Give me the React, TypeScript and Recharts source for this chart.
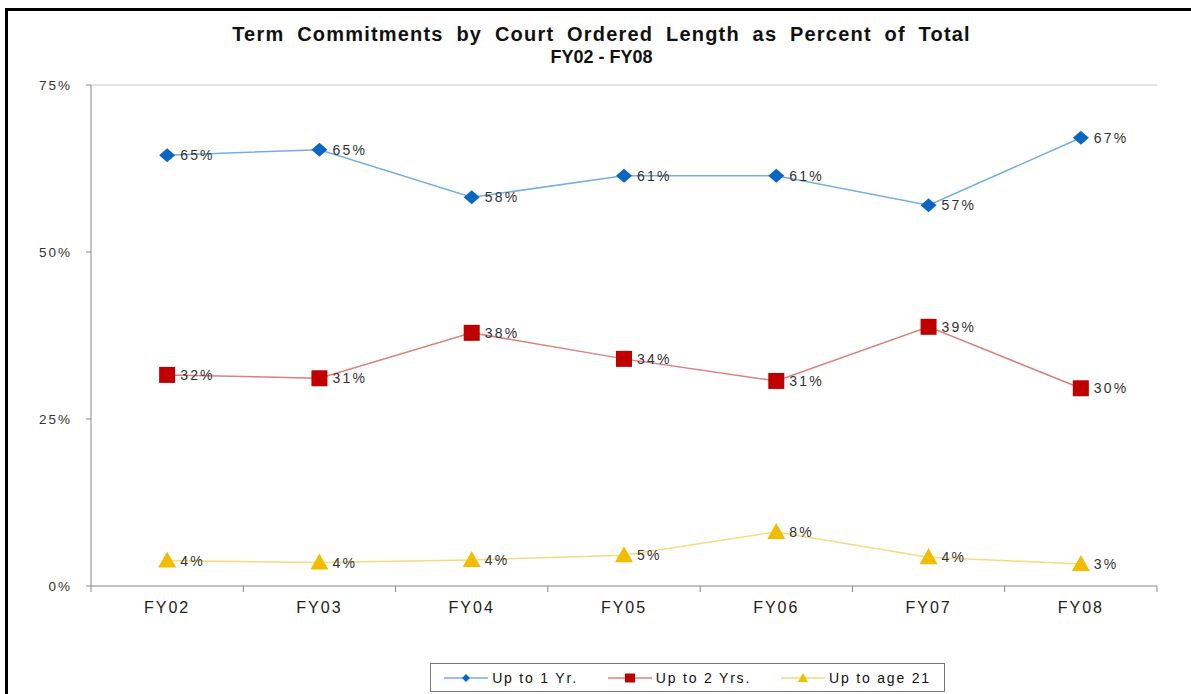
import React from 'react';
import { LineChart, Line, XAxis, YAxis, LabelList, ReferenceLine } from 'recharts';

const categories = ['FY02', 'FY03', 'FY04', 'FY05', 'FY06', 'FY07', 'FY08'];
const upTo1Yr = [64.5, 65.3, 58.2, 61.4, 61.4, 57.0, 67.1];
const upTo2Yrs = [31.6, 31.1, 37.9, 34.0, 30.7, 38.8, 29.6];
const upToAge21 = [3.8, 3.5, 3.9, 4.6, 8.1, 4.3, 3.3];
const yTicks = [0, 25, 50, 75];
const seriesNames = ['Up to 1 Yr.', 'Up to 2 Yrs.', 'Up to age 21'];

const data = categories.map((c, i) => ({ cat: c, a: upTo1Yr[i], b: upTo2Yrs[i], c: upToAge21[i] }));

const W = 1191;
const H = 694;
const XH = 30;
const M = { top: 85, right: 34, left: 31, bottom: 108 - XH };
const YW = 60;
const band = (W - M.right - M.left - YW) / categories.length;
const FONT = '"Liberation Sans", Arial, sans-serif';

const BLUE = '#0a66c2';
const BLUE_LINE = '#78aede';
const RED = '#c00000';
const RED_LINE = '#d98080';
const YEL = '#f2bc00';
const YEL_LINE = '#f5da80';

const Diamond = (p: any) => {
  const { cx, cy } = p;
  if (cx == null || cy == null) return null;
  return <path d={`M${cx} ${cy - 7} L${cx + 8} ${cy} L${cx} ${cy + 7} L${cx - 8} ${cy} Z`} fill={BLUE} />;
};
const Square = (p: any) => {
  const { cx, cy } = p;
  if (cx == null || cy == null) return null;
  return <rect x={cx - 8} y={cy - 8} width={16} height={16} fill={RED} />;
};
const Triangle = (p: any) => {
  const { cx, cy } = p;
  if (cx == null || cy == null) return null;
  return <path d={`M${cx} ${cy - 9} L${cx + 9} ${cy + 7} L${cx - 9} ${cy + 7} Z`} fill={YEL} />;
};

const XTick = (p: any) => {
  const { x, y, payload, index } = p;
  return (
    <g>
      <line x1={x - band / 2} y1={y} x2={x - band / 2} y2={y + 6} stroke="#888" />
      {index === categories.length - 1 && (
        <line x1={x + band / 2} y1={y} x2={x + band / 2} y2={y + 6} stroke="#888" />
      )}
      <text x={x} y={y + 27} textAnchor="middle" fontSize={16} letterSpacing={2} fill="#222" fontFamily={FONT}>
        {payload.value}
      </text>
    </g>
  );
};

const fmt = (v: any) => `${Math.round(Number(v))}%`;

const LegendBox = () => {
  const items = [
    { name: seriesNames[0], color: BLUE, line: BLUE_LINE, shape: 'd' },
    { name: seriesNames[1], color: RED, line: RED_LINE, shape: 's' },
    { name: seriesNames[2], color: YEL, line: YEL_LINE, shape: 't' },
  ];
  return (
    <div
      style={{
        position: 'absolute',
        left: 430,
        top: 663,
        width: 515,
        border: '1px solid #777',
        height: 29,
        boxSizing: 'border-box',
        display: 'flex',
        alignItems: 'center',
        justifyContent: 'center',
        gap: 30,
        fontFamily: FONT,
        fontSize: 14,
        letterSpacing: 1.8,
        color: '#111',
        background: '#fff',
      }}
    >
      {items.map((it) => (
        <div key={it.name} style={{ display: 'flex', alignItems: 'center' }}>
          <svg width={44} height={14} style={{ marginRight: 4 }}>
            <line x1={0} y1={7} x2={44} y2={7} stroke={it.line} strokeWidth={1.5} />
            {it.shape === 'd' && <path d="M22 3 L26 7 L22 11 L18 7 Z" fill={it.color} />}
            {it.shape === 's' && <rect x={17} y={2.5} width={10} height={9} fill={it.color} />}
            {it.shape === 't' && <path d="M22 2 L27 11 L17 11 Z" fill={it.color} />}
          </svg>
          <span>{it.name}</span>
        </div>
      ))}
    </div>
  );
};

const labelProps = { fill: '#333', fontSize: 14, fontFamily: FONT, letterSpacing: 2.2 };

export default function App() {
  return (
    <div style={{ position: 'absolute', left: 0, top: 0, width: W, height: H, background: '#fff', overflow: 'hidden' }}>
      <div
        style={{
          position: 'absolute',
          left: 5,
          top: 8,
          width: W,
          height: H,
          borderLeft: '3px solid #000',
          borderTop: '3px solid #000',
        }}
      />
      <div
        style={{
          position: 'absolute',
          left: 0,
          width: 1203,
          top: 23,
          textAlign: 'center',
          fontFamily: FONT,
          fontWeight: 'bold',
          fontSize: 18,
          lineHeight: '23px',
          color: '#111',
        }}
      >
        <div style={{ fontSize: 20, letterSpacing: 1.2, wordSpacing: 6 }}>
          Term Commitments by Court Ordered Length as Percent of Total
        </div>
        <div>FY02 - FY08</div>
      </div>
      <div style={{ position: 'absolute', left: 0, top: 0 }}>
        <LineChart width={W} height={H} data={data} margin={M}>
          <XAxis
            dataKey="cat"
            xAxisId="x"
            height={XH}
            tick={<XTick />}
            tickLine={false}
            tickSize={0}
            tickMargin={0}
            axisLine={{ stroke: '#888' }}
            interval={0}
            padding={{ left: band / 2, right: band / 2 }}
          />
          <YAxis
            yAxisId="y"
            width={YW}
            domain={[0, 75]}
            ticks={yTicks}
            tickFormatter={(v: number) => `${v}%`}
            tick={{ fontSize: 13.5, fill: '#333', fontFamily: FONT, letterSpacing: 2 }}
            tickSize={5}
            tickMargin={14}
            tickLine={{ stroke: '#888' }}
            axisLine={{ stroke: '#888' }}
          />
          <YAxis
            yAxisId="r"
            orientation="right"
            width={0}
            domain={[0, 75]}
            tick={false}
            tickLine={false}
            axisLine={{ stroke: '#c8c8c8' }}
          />
          <ReferenceLine xAxisId="x" yAxisId="y" y={75} stroke="#c8c8c8" />
          <Line
            xAxisId="x"
            yAxisId="y"
            dataKey="a"
            name={seriesNames[0]}
            stroke={BLUE_LINE}
            strokeWidth={1.5}
            dot={<Diamond />}
            activeDot={false}
            isAnimationActive={false}
          >
            <LabelList dataKey="a" position="right" offset={13} formatter={fmt} {...labelProps} />
          </Line>
          <Line
            xAxisId="x"
            yAxisId="y"
            dataKey="b"
            name={seriesNames[1]}
            stroke={RED_LINE}
            strokeWidth={1.5}
            dot={<Square />}
            activeDot={false}
            isAnimationActive={false}
          >
            <LabelList dataKey="b" position="right" offset={13} formatter={fmt} {...labelProps} />
          </Line>
          <Line
            xAxisId="x"
            yAxisId="y"
            dataKey="c"
            name={seriesNames[2]}
            stroke={YEL_LINE}
            strokeWidth={1.5}
            dot={<Triangle />}
            activeDot={false}
            isAnimationActive={false}
          >
            <LabelList dataKey="c" position="right" offset={13} formatter={fmt} {...labelProps} />
          </Line>
        </LineChart>
      </div>
      <LegendBox />
    </div>
  );
}
